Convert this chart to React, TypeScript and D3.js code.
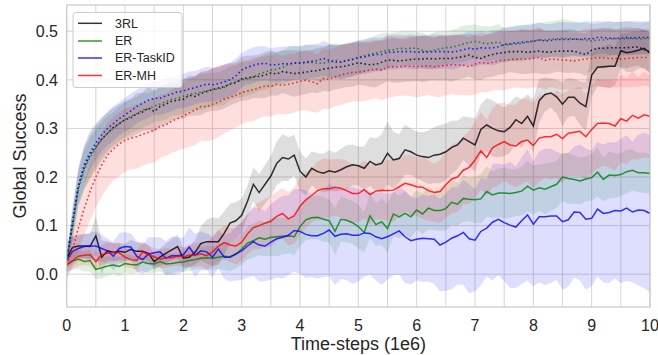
import React from 'react'
import * as d3 from 'd3'

// time-steps (1e6), one sample every 0.1
const steps = d3.range(101).map(i => i / 10)

const labels = ['3RL', 'ER', 'ER-TaskID', 'ER-MH']
const colors = ['#000000', '#008000', '#0000ff', '#ff0000']
const xTicks = [0, 1, 2, 3, 4, 5, 6, 7, 8, 9, 10]
const yTicks = [0.0, 0.1, 0.2, 0.3, 0.4, 0.5]
const xGrid = [0, 0.5, 1, 1.5, 2, 2.5, 3, 3.5, 4, 4.5, 5, 5.5, 6, 6.5, 7, 7.5, 8, 8.5, 9, 9.5, 10]

// solid curves (lower group)
const solid3RL = [
    0.033, 0.055, 0.058, 0.058, 0.057, 0.079, 0.035, 0.048, 0.045, 0.047,
    0.045, 0.051, 0.047, 0.047, 0.043, 0.026, 0.035, 0.043, 0.05, 0.057,
    0.033, 0.035, 0.045, 0.063, 0.067, 0.067, 0.067, 0.084, 0.105, 0.11,
    0.121, 0.15, 0.185, 0.168, 0.185, 0.202, 0.228, 0.24, 0.237, 0.245,
    0.212, 0.2, 0.218, 0.211, 0.208, 0.213, 0.21, 0.215, 0.221, 0.225,
    0.223, 0.218, 0.232, 0.225, 0.228, 0.249, 0.235, 0.238, 0.256, 0.252,
    0.245, 0.242, 0.24, 0.245, 0.247, 0.252, 0.261, 0.266, 0.28, 0.273,
    0.266, 0.298, 0.307, 0.3, 0.295, 0.293, 0.302, 0.318, 0.31, 0.325,
    0.305, 0.357, 0.37, 0.373, 0.365, 0.35, 0.364, 0.364, 0.352, 0.345,
    0.41, 0.426, 0.427, 0.428, 0.428, 0.46, 0.456, 0.458, 0.461, 0.465, 0.455
]
const solidER = [
    0.019, 0.027, 0.031, 0.026, 0.028, 0.01, 0.013, 0.017, 0.019, 0.016,
    0.022, 0.02, 0.019, 0.025, 0.022, 0.021, 0.026, 0.021, 0.022, 0.024,
    0.025, 0.028, 0.03, 0.033, 0.034, 0.033, 0.035, 0.037, 0.036, 0.041,
    0.052, 0.064, 0.069, 0.075, 0.072, 0.076, 0.077, 0.078, 0.079, 0.077,
    0.098, 0.112, 0.116, 0.117, 0.113, 0.11, 0.088, 0.113, 0.111, 0.106,
    0.098, 0.086, 0.12, 0.102, 0.108, 0.094, 0.124, 0.118, 0.125, 0.118,
    0.132, 0.124, 0.136, 0.131, 0.131, 0.135, 0.148, 0.144, 0.156, 0.154,
    0.153, 0.155, 0.17, 0.163, 0.167, 0.167, 0.166, 0.168, 0.171, 0.181,
    0.173, 0.178, 0.175, 0.18, 0.185, 0.2, 0.197, 0.195, 0.192, 0.196,
    0.199, 0.21, 0.195, 0.204, 0.203, 0.205, 0.211, 0.214, 0.209, 0.209, 0.207
]
const solidTaskID = [
    0.029, 0.047, 0.053, 0.057, 0.058, 0.058, 0.053, 0.048, 0.037, 0.053,
    0.057, 0.056, 0.037, 0.03, 0.041, 0.044, 0.046, 0.033, 0.038, 0.038,
    0.04, 0.056, 0.039, 0.048, 0.046, 0.035, 0.052, 0.035, 0.035, 0.042,
    0.048, 0.058, 0.067, 0.06, 0.058, 0.066, 0.073, 0.076, 0.08, 0.09,
    0.088, 0.082, 0.079, 0.079, 0.084, 0.091, 0.078, 0.082, 0.083, 0.08,
    0.08, 0.085, 0.084, 0.077, 0.073, 0.077, 0.083, 0.089, 0.077, 0.069,
    0.072, 0.074, 0.073, 0.072, 0.06, 0.066, 0.074, 0.079, 0.086, 0.073,
    0.07, 0.088, 0.095, 0.107, 0.113, 0.106, 0.101, 0.097, 0.11, 0.122,
    0.103, 0.118, 0.118, 0.12, 0.12, 0.108, 0.112, 0.128, 0.127, 0.113,
    0.115, 0.134, 0.125, 0.127, 0.131, 0.13, 0.136, 0.128, 0.132, 0.131, 0.125
]
const solidMH = [
    0.019, 0.028, 0.037, 0.039, 0.04, 0.026, 0.04, 0.043, 0.044, 0.044,
    0.035, 0.03, 0.028, 0.046, 0.04, 0.036, 0.031, 0.034, 0.034, 0.037,
    0.036, 0.039, 0.039, 0.042, 0.038, 0.046, 0.058, 0.065, 0.06, 0.058,
    0.066, 0.083, 0.096, 0.1, 0.105, 0.109, 0.119, 0.125, 0.114, 0.12,
    0.14, 0.153, 0.162, 0.172, 0.176, 0.176, 0.179, 0.177, 0.172, 0.166,
    0.166, 0.174, 0.164, 0.171, 0.173, 0.172, 0.173, 0.18, 0.187, 0.184,
    0.18, 0.179, 0.172, 0.168, 0.17, 0.184, 0.196, 0.2, 0.214, 0.22,
    0.235, 0.254, 0.24, 0.26, 0.267, 0.273, 0.266, 0.264, 0.273, 0.276,
    0.265, 0.28, 0.283, 0.283, 0.288, 0.279, 0.29, 0.292, 0.294, 0.283,
    0.298, 0.31, 0.311, 0.31, 0.305, 0.32, 0.315, 0.327, 0.321, 0.328, 0.325
]

// dotted curves (upper group)
const dotted3RL = [
    0.03, 0.1, 0.18, 0.22, 0.245, 0.262, 0.278, 0.29, 0.302, 0.31,
    0.318, 0.322, 0.33, 0.334, 0.342, 0.335, 0.345, 0.35, 0.356, 0.358,
    0.36, 0.368, 0.366, 0.372, 0.376, 0.38, 0.383, 0.386, 0.391, 0.394,
    0.402, 0.404, 0.406, 0.407, 0.41, 0.414, 0.412, 0.417, 0.415, 0.413,
    0.414, 0.416, 0.418, 0.419, 0.422, 0.424, 0.426, 0.427, 0.429, 0.432,
    0.435, 0.433, 0.431, 0.432, 0.436, 0.441, 0.44, 0.439, 0.44, 0.442,
    0.443, 0.443, 0.444, 0.443, 0.444, 0.444, 0.444, 0.446, 0.448, 0.451,
    0.446, 0.444, 0.449, 0.452, 0.455, 0.456, 0.458, 0.458, 0.458, 0.457,
    0.458, 0.459, 0.457, 0.457, 0.459, 0.459, 0.459, 0.459, 0.455, 0.452,
    0.461, 0.465, 0.465, 0.466, 0.466, 0.466, 0.466, 0.467, 0.468, 0.462, 0.458
]
const dottedER = [
    0.025, 0.1, 0.175, 0.215, 0.24, 0.26, 0.277, 0.29, 0.3, 0.31,
    0.318, 0.325, 0.33, 0.338, 0.34, 0.346, 0.35, 0.355, 0.36, 0.362,
    0.366, 0.37, 0.372, 0.375, 0.377, 0.38, 0.381, 0.384, 0.393, 0.396,
    0.4, 0.402, 0.406, 0.412, 0.416, 0.42, 0.422, 0.426, 0.432, 0.434,
    0.434, 0.436, 0.436, 0.434, 0.434, 0.437, 0.441, 0.436, 0.44, 0.442,
    0.446, 0.449, 0.453, 0.455, 0.458, 0.461, 0.462, 0.465, 0.464, 0.465,
    0.465, 0.461, 0.458, 0.461, 0.464, 0.466, 0.467, 0.47, 0.474, 0.477,
    0.479, 0.477, 0.474, 0.476, 0.478, 0.471, 0.473, 0.474, 0.475, 0.477,
    0.48, 0.482, 0.482, 0.484, 0.484, 0.485, 0.485, 0.484, 0.483, 0.482,
    0.48, 0.482, 0.482, 0.484, 0.485, 0.484, 0.485, 0.485, 0.484, 0.485, 0.485
]
const dottedTaskID = [
    0.03, 0.11, 0.18, 0.225, 0.25, 0.27, 0.287, 0.3, 0.31, 0.32,
    0.328, 0.336, 0.345, 0.352, 0.358, 0.362, 0.362, 0.367, 0.371, 0.375,
    0.377, 0.381, 0.384, 0.388, 0.391, 0.39, 0.392, 0.396, 0.4, 0.408,
    0.42, 0.426, 0.43, 0.433, 0.434, 0.431, 0.431, 0.433, 0.433, 0.435,
    0.435, 0.436, 0.438, 0.44, 0.444, 0.44, 0.436, 0.437, 0.44, 0.442,
    0.446, 0.447, 0.45, 0.452, 0.452, 0.457, 0.457, 0.458, 0.458, 0.458,
    0.457, 0.457, 0.457, 0.458, 0.458, 0.458, 0.457, 0.459, 0.462, 0.465,
    0.463, 0.466, 0.465, 0.466, 0.468, 0.473, 0.474, 0.476, 0.477, 0.479,
    0.479, 0.482, 0.48, 0.481, 0.483, 0.483, 0.483, 0.484, 0.483, 0.485,
    0.484, 0.487, 0.487, 0.486, 0.485, 0.486, 0.487, 0.486, 0.487, 0.487, 0.487
]
const dottedMH = [
    0.02, 0.05, 0.095, 0.135, 0.17, 0.2, 0.225, 0.245, 0.258, 0.268,
    0.276, 0.28, 0.283, 0.288, 0.292, 0.296, 0.304, 0.307, 0.315, 0.32,
    0.326, 0.332, 0.338, 0.345, 0.345, 0.35, 0.354, 0.36, 0.364, 0.368,
    0.374, 0.377, 0.38, 0.384, 0.387, 0.387, 0.391, 0.389, 0.391, 0.393,
    0.397, 0.399, 0.396, 0.392, 0.403, 0.401, 0.406, 0.41, 0.413, 0.415,
    0.416, 0.418, 0.42, 0.422, 0.42, 0.426, 0.427, 0.427, 0.428, 0.428,
    0.427, 0.428, 0.429, 0.427, 0.428, 0.43, 0.431, 0.431, 0.43, 0.427,
    0.432, 0.436, 0.434, 0.436, 0.439, 0.44, 0.442, 0.442, 0.443, 0.443,
    0.444, 0.446, 0.44, 0.443, 0.442, 0.441, 0.44, 0.439, 0.441, 0.443,
    0.444, 0.446, 0.445, 0.444, 0.444, 0.443, 0.444, 0.445, 0.446, 0.446, 0.446
]

// spread (std) of each curve
const solid3RLStd = [
    0.02, 0.022, 0.024, 0.025, 0.026, 0.04, 0.035, 0.02, 0.018, 0.018,
    0.017, 0.02, 0.019, 0.018, 0.016, 0.017, 0.018, 0.02, 0.022, 0.025,
    0.02, 0.022, 0.025, 0.035, 0.045, 0.05, 0.048, 0.045, 0.04, 0.038,
    0.035, 0.032, 0.035, 0.038, 0.04, 0.042, 0.045, 0.048, 0.045, 0.042,
    0.04, 0.038, 0.035, 0.038, 0.04, 0.042, 0.04, 0.043, 0.045, 0.042,
    0.04, 0.045, 0.05, 0.055, 0.06, 0.065, 0.058, 0.05, 0.052, 0.048,
    0.048, 0.05, 0.055, 0.058, 0.06, 0.058, 0.055, 0.05, 0.045, 0.05,
    0.055, 0.052, 0.055, 0.058, 0.055, 0.05, 0.052, 0.048, 0.05, 0.045,
    0.055, 0.045, 0.035, 0.03, 0.035, 0.045, 0.04, 0.038, 0.045, 0.05,
    0.045, 0.04, 0.042, 0.045, 0.04, 0.035, 0.04, 0.042, 0.038, 0.04, 0.042
]
const solidERStd = [
    0.015, 0.018, 0.02, 0.02, 0.022, 0.02, 0.022, 0.02, 0.018, 0.02,
    0.018, 0.02, 0.016, 0.018, 0.02, 0.018, 0.02, 0.022, 0.02, 0.018,
    0.02, 0.022, 0.02, 0.022, 0.025, 0.024, 0.025, 0.028, 0.03, 0.03,
    0.032, 0.034, 0.035, 0.036, 0.035, 0.038, 0.04, 0.038, 0.036, 0.038,
    0.04, 0.042, 0.044, 0.045, 0.046, 0.045, 0.048, 0.046, 0.045, 0.044,
    0.045, 0.042, 0.046, 0.044, 0.048, 0.05, 0.046, 0.044, 0.045, 0.042,
    0.04, 0.042, 0.044, 0.04, 0.042, 0.045, 0.046, 0.044, 0.048, 0.045,
    0.048, 0.05, 0.052, 0.048, 0.05, 0.052, 0.05, 0.048, 0.05, 0.052,
    0.05, 0.048, 0.052, 0.05, 0.048, 0.05, 0.052, 0.05, 0.048, 0.046,
    0.048, 0.05, 0.045, 0.048, 0.046, 0.044, 0.045, 0.042, 0.04, 0.042, 0.04
]
const solidTaskIDStd = [
    0.04, 0.03, 0.025, 0.025, 0.028, 0.03, 0.028, 0.025, 0.03, 0.032,
    0.03, 0.028, 0.032, 0.03, 0.035, 0.032, 0.03, 0.035, 0.04, 0.038,
    0.035, 0.04, 0.045, 0.04, 0.038, 0.042, 0.04, 0.045, 0.05, 0.055,
    0.06, 0.065, 0.07, 0.075, 0.072, 0.078, 0.08, 0.085, 0.082, 0.085,
    0.088, 0.09, 0.085, 0.088, 0.09, 0.095, 0.1, 0.092, 0.095, 0.1,
    0.095, 0.09, 0.085, 0.09, 0.095, 0.088, 0.085, 0.09, 0.095, 0.09,
    0.085, 0.09, 0.088, 0.092, 0.095, 0.1, 0.105, 0.1, 0.108, 0.112,
    0.105, 0.11, 0.1, 0.12, 0.115, 0.12, 0.13, 0.125, 0.13, 0.135,
    0.128, 0.135, 0.14, 0.138, 0.132, 0.14, 0.138, 0.135, 0.14, 0.145,
    0.14, 0.138, 0.142, 0.145, 0.14, 0.148, 0.15, 0.145, 0.155, 0.16, 0.162
]
const solidMHStd = [
    0.015, 0.018, 0.02, 0.02, 0.022, 0.02, 0.02, 0.022, 0.02, 0.018,
    0.02, 0.018, 0.02, 0.022, 0.02, 0.018, 0.02, 0.02, 0.018, 0.02,
    0.02, 0.022, 0.024, 0.025, 0.028, 0.03, 0.032, 0.035, 0.035, 0.038,
    0.04, 0.042, 0.045, 0.048, 0.05, 0.052, 0.05, 0.052, 0.055, 0.058,
    0.06, 0.058, 0.055, 0.06, 0.062, 0.06, 0.058, 0.06, 0.062, 0.06,
    0.058, 0.06, 0.062, 0.058, 0.06, 0.062, 0.065, 0.06, 0.058, 0.062,
    0.06, 0.065, 0.062, 0.06, 0.065, 0.068, 0.07, 0.072, 0.07, 0.075,
    0.078, 0.08, 0.078, 0.082, 0.085, 0.08, 0.082, 0.085, 0.088, 0.085,
    0.088, 0.09, 0.085, 0.088, 0.09, 0.092, 0.088, 0.09, 0.092, 0.088,
    0.09, 0.092, 0.088, 0.09, 0.092, 0.09, 0.088, 0.09, 0.085, 0.088, 0.085
]
const dotted3RLStd = [
    0.01, 0.03, 0.04, 0.045, 0.05, 0.048, 0.045, 0.042, 0.04, 0.04,
    0.038, 0.04, 0.042, 0.04, 0.045, 0.042, 0.04, 0.042, 0.04, 0.038,
    0.04, 0.042, 0.04, 0.045, 0.042, 0.044, 0.046, 0.045, 0.044, 0.042,
    0.045, 0.046, 0.044, 0.045, 0.048, 0.046, 0.045, 0.044, 0.046, 0.048,
    0.046, 0.045, 0.044, 0.046, 0.045, 0.048, 0.046, 0.045, 0.044, 0.046,
    0.045, 0.044, 0.046, 0.048, 0.045, 0.044, 0.046, 0.045, 0.044, 0.046,
    0.045, 0.048, 0.046, 0.044, 0.046, 0.045, 0.048, 0.046, 0.045, 0.044,
    0.046, 0.045, 0.044, 0.046, 0.045, 0.044, 0.042, 0.044, 0.046, 0.045,
    0.044, 0.046, 0.045, 0.044, 0.042, 0.044, 0.045, 0.044, 0.042, 0.044,
    0.042, 0.04, 0.042, 0.04, 0.038, 0.04, 0.042, 0.04, 0.038, 0.04, 0.042
]
const dottedERStd = [
    0.01, 0.03, 0.035, 0.04, 0.04, 0.038, 0.036, 0.035, 0.034, 0.035,
    0.036, 0.034, 0.035, 0.036, 0.034, 0.033, 0.035, 0.036, 0.034, 0.035,
    0.036, 0.034, 0.035, 0.037, 0.036, 0.035, 0.034, 0.036, 0.035, 0.034,
    0.036, 0.035, 0.034, 0.035, 0.036, 0.037, 0.035, 0.034, 0.036, 0.035,
    0.034, 0.036, 0.035, 0.037, 0.036, 0.034, 0.035, 0.036, 0.034, 0.035,
    0.036, 0.035, 0.034, 0.036, 0.038, 0.036, 0.035, 0.034, 0.036, 0.035,
    0.034, 0.036, 0.035, 0.037, 0.036, 0.034, 0.035, 0.036, 0.038, 0.036,
    0.035, 0.034, 0.036, 0.035, 0.037, 0.036, 0.035, 0.036, 0.038, 0.037,
    0.036, 0.035, 0.037, 0.036, 0.038, 0.04, 0.038, 0.036, 0.035, 0.036,
    0.035, 0.034, 0.036, 0.035, 0.034, 0.036, 0.035, 0.034, 0.033, 0.034, 0.035
]
const dottedTaskIDStd = [
    0.012, 0.03, 0.035, 0.038, 0.036, 0.035, 0.034, 0.035, 0.036, 0.034,
    0.035, 0.036, 0.034, 0.035, 0.036, 0.034, 0.035, 0.036, 0.035, 0.034,
    0.035, 0.036, 0.034, 0.035, 0.036, 0.035, 0.034, 0.036, 0.035, 0.036,
    0.035, 0.036, 0.037, 0.036, 0.035, 0.034, 0.036, 0.035, 0.036, 0.035,
    0.034, 0.036, 0.035, 0.034, 0.036, 0.035, 0.034, 0.035, 0.036, 0.035,
    0.034, 0.035, 0.036, 0.035, 0.034, 0.035, 0.036, 0.035, 0.034, 0.036,
    0.035, 0.034, 0.035, 0.036, 0.035, 0.034, 0.036, 0.035, 0.034, 0.035,
    0.036, 0.035, 0.034, 0.036, 0.035, 0.034, 0.035, 0.036, 0.035, 0.034,
    0.035, 0.036, 0.035, 0.034, 0.035, 0.036, 0.035, 0.034, 0.035, 0.036,
    0.035, 0.034, 0.033, 0.035, 0.034, 0.033, 0.034, 0.035, 0.034, 0.033, 0.034
]
const dottedMHStd = [
    0.01, 0.03, 0.045, 0.055, 0.06, 0.062, 0.065, 0.066, 0.065, 0.066,
    0.065, 0.064, 0.066, 0.065, 0.064, 0.066, 0.065, 0.064, 0.065, 0.066,
    0.068, 0.07, 0.072, 0.07, 0.072, 0.074, 0.072, 0.07, 0.068, 0.066,
    0.065, 0.064, 0.065, 0.063, 0.062, 0.063, 0.062, 0.06, 0.062, 0.061,
    0.06, 0.061, 0.062, 0.06, 0.062, 0.061, 0.06, 0.062, 0.061, 0.06,
    0.06, 0.062, 0.061, 0.06, 0.062, 0.064, 0.062, 0.06, 0.061, 0.062,
    0.063, 0.062, 0.06, 0.062, 0.064, 0.062, 0.06, 0.062, 0.061, 0.06,
    0.062, 0.061, 0.06, 0.058, 0.06, 0.062, 0.06, 0.058, 0.06, 0.061,
    0.06, 0.062, 0.06, 0.058, 0.06, 0.061, 0.06, 0.058, 0.06, 0.062,
    0.06, 0.058, 0.06, 0.061, 0.06, 0.058, 0.06, 0.059, 0.06, 0.058, 0.06
]

const solidMeans = [solid3RL, solidER, solidTaskID, solidMH]
const solidStds = [solid3RLStd, solidERStd, solidTaskIDStd, solidMHStd]
const dottedMeans = [dotted3RL, dottedER, dottedTaskID, dottedMH]
const dottedStds = [dotted3RLStd, dottedERStd, dottedTaskIDStd, dottedMHStd]

export default function App() {
    let width = 658, height = 355
    let left = 66.7, right = 650, top = 5, bottom = 307
    let font = 'Liberation Sans, Arial, Helvetica, sans-serif'
    let textColor = '#262626'

    let x = d3.scaleLinear().domain([0, 10]).range([left, right])
    let y = d3.scaleLinear().domain([-0.0675, 0.554]).range([bottom, top])

    let line = d3.line<number>()
        .x((d, i) => x(steps[i]))
        .y(d => y(d))

    function band(mean: number[], std: number[]) {
        return d3.area<number>()
            .x((d, i) => x(steps[i]))
            .y0((d, i) => y(mean[i] - std[i]))
            .y1((d, i) => y(mean[i] + std[i]))(mean) || ''
    }

    let legendRows = [23.3, 41, 58, 75.5]

    return (
        <svg width={width} height={height} style={{ position: 'absolute', left: 0, top: 0, background: '#fff' }}>
            <defs>
                <clipPath id='plotClip'>
                    <rect x={left} y={top} width={right - left} height={bottom - top} />
                </clipPath>
            </defs>
            <rect x={left} y={top} width={right - left} height={bottom - top} fill='#fff' />

            {xGrid.map(t => (
                <line key={'gx' + t} x1={x(t)} x2={x(t)} y1={top} y2={bottom} stroke='#d5d5d5' strokeWidth={1} />
            ))}
            {yTicks.map(t => (
                <line key={'gy' + t} x1={left} x2={right} y1={y(t)} y2={y(t)} stroke='#d5d5d5' strokeWidth={1} />
            ))}

            <g clipPath='url(#plotClip)'>
                {labels.map((l, i) => (
                    <g key={'band' + l}>
                        <path d={band(solidMeans[i], solidStds[i])} fill={colors[i]} fillOpacity={0.13} stroke='none' />
                        <path d={band(dottedMeans[i], dottedStds[i])} fill={colors[i]} fillOpacity={0.13} stroke='none' />
                    </g>
                ))}
                {labels.map((l, i) => (
                    <g key={'line' + l}>
                        <path d={line(solidMeans[i]) || ''} fill='none' stroke={colors[i]} strokeOpacity={0.8} strokeWidth={1.5} />
                        <path d={line(dottedMeans[i]) || ''} fill='none' stroke={colors[i]} strokeOpacity={0.8} strokeWidth={1.6} strokeDasharray='1.6 2.6' />
                    </g>
                ))}
            </g>

            <rect x={left} y={top} width={right - left} height={bottom - top} fill='none' stroke='#cccccc' strokeWidth={1.25} />

            {xTicks.map(t => (
                <text key={'tx' + t} x={x(t)} y={331} textAnchor='middle' fontSize={16} fontFamily={font} fill={textColor}>{t}</text>
            ))}
            {yTicks.map(t => (
                <text key={'ty' + t} x={58} y={y(t)} dy='0.36em' textAnchor='end' fontSize={16} fontFamily={font} fill={textColor}>{t.toFixed(1)}</text>
            ))}

            <text x={(left + right) / 2} y={350} textAnchor='middle' fontSize={18} fontFamily={font} fill={textColor}>Time-steps (1e6)</text>
            <text transform={'translate(25.5,' + ((top + bottom) / 2) + ') rotate(-90)'} textAnchor='middle' fontSize={18} fontFamily={font} fill={textColor}>Global Success</text>

            <g>
                <rect x={73} y={12.5} width={109} height={75} rx={3} fill='#fff' fillOpacity={0.8} stroke='#cccccc' strokeWidth={1} />
                {labels.map((l, i) => (
                    <g key={'leg' + l}>
                        <line x1={78} x2={102} y1={legendRows[i]} y2={legendRows[i]} stroke={colors[i]} strokeOpacity={0.8} strokeWidth={1.5} />
                        <text x={115} y={legendRows[i]} dy='0.35em' fontSize={12.5} fontFamily={font} fill={textColor}>{l}</text>
                    </g>
                ))}
            </g>
        </svg>
    )
}
